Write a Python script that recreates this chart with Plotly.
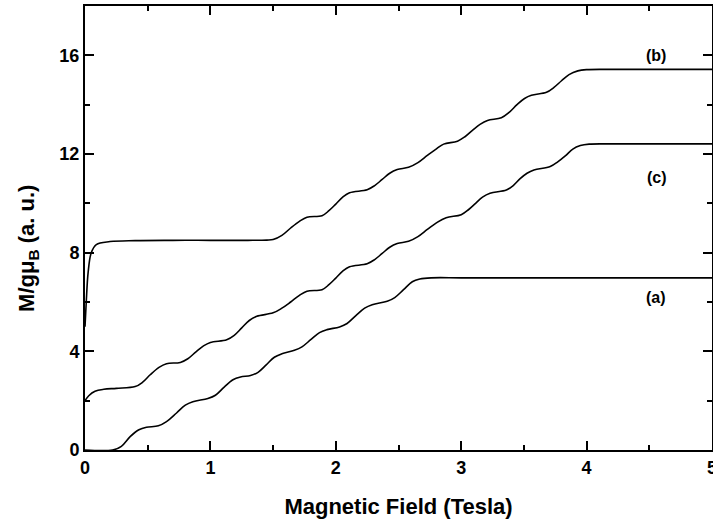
import plotly.graph_objects as go

# Curve (a)
a_field = [0.0, 0.22, 0.29, 0.36, 0.43, 0.49, 0.585, 0.65, 0.73, 0.80, 0.86, 0.98, 1.04, 1.11,
           1.18, 1.24, 1.32, 1.38, 1.445, 1.51, 1.57, 1.67, 1.73, 1.80, 1.87, 1.93, 2.03, 2.09,
           2.16, 2.23, 2.29, 2.41, 2.47, 2.54, 2.61, 2.67, 2.76, 3.0, 3.5, 4.0, 4.5, 5.0]
a_mag = [0.0, 0.0, 0.15, 0.54, 0.82, 0.92, 0.98, 1.15, 1.5, 1.82, 1.96, 2.09, 2.22, 2.55,
         2.85, 2.96, 3.02, 3.15, 3.45, 3.76, 3.90, 4.04, 4.18, 4.47, 4.76, 4.88, 4.99, 5.13,
         5.45, 5.75, 5.89, 6.03, 6.18, 6.5, 6.82, 6.93, 6.98, 6.98, 6.98, 6.98, 6.98, 6.98]

# Curve (b)
b_field = [0.0, 0.01, 0.025, 0.05, 0.09, 0.2, 0.4, 0.7, 1.0, 1.3, 1.45, 1.5, 1.57, 1.64, 1.71,
           1.77, 1.89, 1.945, 2.0, 2.055, 2.11, 2.25, 2.31, 2.37, 2.43, 2.49, 2.58, 2.655, 2.73,
           2.805, 2.86, 2.97, 3.03, 3.09, 3.15, 3.21, 3.32, 3.385, 3.445, 3.505, 3.56, 3.68,
           3.74, 3.80, 3.86, 3.93, 4.0, 4.2, 4.6, 5.0]
b_mag = [5.0, 6.0, 7.2, 8.0, 8.33, 8.45, 8.49, 8.5, 8.5, 8.5, 8.51, 8.53, 8.7, 9.0, 9.27,
         9.44, 9.5, 9.7, 9.97, 10.25, 10.43, 10.55, 10.72, 10.97, 11.22, 11.37, 11.46, 11.65,
         11.94, 12.22, 12.40, 12.52, 12.7, 12.96, 13.2, 13.36, 13.47, 13.7, 14.0, 14.25, 14.38,
         14.5, 14.7, 14.97, 15.22, 15.37, 15.42, 15.43, 15.43, 15.43]

# Curve (c)
c_field = [0.0, 0.03, 0.08, 0.15, 0.25, 0.4, 0.46, 0.52, 0.59, 0.65, 0.76, 0.82, 0.885, 0.945,
           1.0, 1.13, 1.19, 1.25, 1.31, 1.37, 1.50, 1.57, 1.64, 1.71, 1.77, 1.89, 1.945, 2.0,
           2.055, 2.11, 2.25, 2.31, 2.37, 2.43, 2.49, 2.58, 2.655, 2.73, 2.805, 2.88, 3.0,
           3.06, 3.115, 3.17, 3.23, 3.36, 3.415, 3.47, 3.525, 3.58, 3.71, 3.77, 3.83, 3.89,
           3.95, 4.02, 4.2, 4.6, 5.0]
c_mag = [2.0, 2.2, 2.38, 2.46, 2.5, 2.57, 2.75, 3.05, 3.35, 3.50, 3.55, 3.7, 3.98, 4.22,
         4.36, 4.47, 4.65, 4.95, 5.25, 5.42, 5.56, 5.75, 6.0, 6.27, 6.44, 6.50, 6.7, 6.97,
         7.25, 7.43, 7.55, 7.72, 7.97, 8.22, 8.37, 8.46, 8.65, 8.94, 9.22, 9.42, 9.54,
         9.75, 10.0, 10.25, 10.41, 10.54, 10.72, 11.0, 11.22, 11.35, 11.49, 11.68, 11.92, 12.2,
         12.34, 12.40, 12.41, 12.41, 12.41]

labels = ["(a)", "(b)", "(c)"]
label_x = [4.55, 4.55, 4.56]
label_y = [6.18, 16.0, 11.06]

x_ticks = [0, 1, 2, 3, 4, 5]
y_ticks = [0, 4, 8, 12, 16]

FONT = "Liberation Sans, Arial"

fig = go.Figure()
for xs, ys in [(a_field, a_mag), (b_field, b_mag), (c_field, c_mag)]:
    fig.add_trace(go.Scatter(x=xs, y=ys, mode="lines",
                             line=dict(color="black", width=1.6, shape="spline", smoothing=1.0),
                             showlegend=False, hoverinfo="skip", cliponaxis=True))

for t, lx, ly in zip(labels, label_x, label_y):
    fig.add_annotation(x=lx, y=ly, text="<b>%s</b>" % t, showarrow=False,
                       font=dict(family=FONT, size=16, color="black"))

# y-axis title (placed as annotation to match its offset position)
fig.add_annotation(xref="paper", yref="paper", x=-0.091, y=0.455, textangle=-90,
                   text="<b>M/gμ<sub>B</sub> (a. u.)</b>", showarrow=False,
                   xanchor="center", yanchor="middle",
                   font=dict(family=FONT, size=22, color="black"))

axis_common = dict(showgrid=False, zeroline=False, showline=True, linecolor="black", linewidth=2,
                   mirror="allticks", ticks="inside", ticklen=9, tickwidth=1.5, tickcolor="black",
                   automargin=False,
                   tickfont=dict(family=FONT, size=18, color="black"))

fig.update_xaxes(range=[0, 5], tickvals=x_ticks, ticktext=["<b>%d</b>" % v for v in x_ticks],
                 minor=dict(ticks="inside", tickvals=[0.5, 1.5, 2.5, 3.5, 4.5], ticklen=5,
                            tickwidth=1.5, tickcolor="black"),
                 ticklabeloverflow="allow",
                 title=dict(text="<b>Magnetic Field (Tesla)</b>",
                            font=dict(family=FONT, size=22, color="black"),
                            standoff=22),
                 **axis_common)
fig.update_yaxes(range=[0, 18], tickvals=y_ticks, ticktext=["<b>%d</b>" % v for v in y_ticks],
                 minor=dict(ticks="inside", tickvals=[2, 6, 10, 14], ticklen=5,
                            tickwidth=1.5, tickcolor="black"),
                 **axis_common)

fig.update_layout(width=713, height=523, margin=dict(l=85, r=1, t=6, b=73),
                  plot_bgcolor="white", paper_bgcolor="white")

fig.write_html("out.html", config={"displayModeBar": False},
               post_script="document.body.style.margin='0px';")
